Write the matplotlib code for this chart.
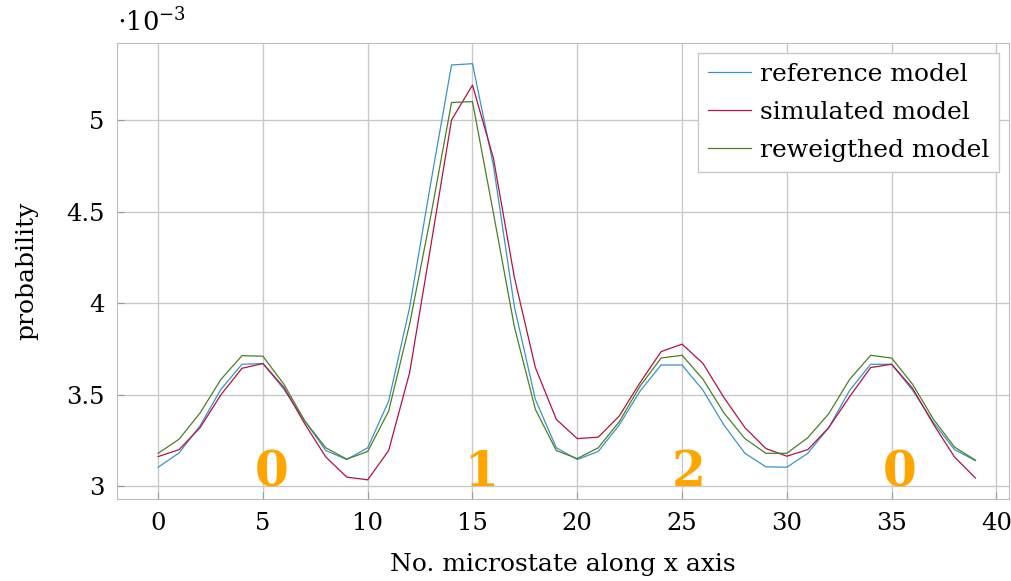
import numpy as np
import matplotlib
matplotlib.use('Agg')
from matplotlib import pyplot as plt

plt.rcParams['font.family'] = 'DejaVu Serif'
plt.rcParams['mathtext.fontset'] = 'dejavuserif'

# microstate index along x
x = np.arange(40)

# probabilities, in units of 1e-3
reference = [3.104, 3.182, 3.33, 3.53, 3.666, 3.67, 3.53, 3.356, 3.195, 3.146,
             3.21, 3.465, 3.976, 4.65, 5.30, 5.307, 4.75, 3.98, 3.474, 3.21,
             3.146, 3.19, 3.334, 3.52, 3.662, 3.662, 3.524, 3.334, 3.18, 3.106,
             3.104, 3.18, 3.32, 3.524, 3.666, 3.666, 3.524, 3.347, 3.20, 3.14]
simulated = [3.162, 3.20, 3.32, 3.50, 3.644, 3.67, 3.54, 3.34, 3.16, 3.05,
             3.035, 3.195, 3.62, 4.305, 5.0, 5.19, 4.79, 4.14, 3.648, 3.365,
             3.26, 3.268, 3.383, 3.566, 3.735, 3.776, 3.67, 3.484, 3.32, 3.206,
             3.164, 3.20, 3.32, 3.49, 3.648, 3.666, 3.535, 3.338, 3.16, 3.045]
reweighted = [3.18, 3.257, 3.40, 3.584, 3.713, 3.71, 3.557, 3.356, 3.21, 3.148,
              3.19, 3.41, 3.885, 4.47, 5.095, 5.10, 4.49, 3.87, 3.42, 3.195,
              3.151, 3.21, 3.352, 3.547, 3.70, 3.715, 3.584, 3.40, 3.26, 3.18,
              3.18, 3.265, 3.396, 3.584, 3.715, 3.70, 3.557, 3.365, 3.214, 3.142]

# region labels drawn in orange
region_labels = ['0', '1', '2', '0']
region_x = [5.4, 15.4, 25.3, 35.4]

fig = plt.figure(figsize=(10.11, 5.81), dpi=100)
ax = fig.add_axes([0.116, 0.141, 0.882, 0.785])

ax.plot(x, reference, color='#3a93c8', lw=0.9, label='reference model')
ax.plot(x, simulated, color='#b4123f', lw=0.9, label='simulated model')
ax.plot(x, reweighted, color='#4b7f25', lw=0.9, label='reweigthed model')

for lab, xp in zip(region_labels, region_x):
    ax.text(xp, 3.0, lab, color='#ffa500', fontsize=35, fontweight='bold',
            ha='center', va='baseline')

ax.set_xlim(-1.95, 40.6)
ax.set_ylim(2.93, 5.42)
ax.set_xticks(np.arange(0, 41, 5))
ax.set_yticks([3, 3.5, 4, 4.5, 5])
ax.set_yticklabels(['3', '3.5', '4', '4.5', '5'])

ax.grid(True, color='#c8c8c8', lw=1)
ax.set_axisbelow(True)
for s in ax.spines.values():
    s.set_color('#bdbdbd')
ax.tick_params(direction='in', length=5, color='#9a9a9a', labelsize=17.5, pad=9)

ax.set_xlabel('No. microstate along x axis', fontsize=18, labelpad=13)
ax.set_ylabel('probability', fontsize=18, labelpad=20)
ax.text(0.0, 1.015, r'$\cdot10^{-3}$', transform=ax.transAxes, fontsize=18.5,
        ha='left', va='bottom')

leg = ax.legend(loc='upper right', fontsize=18, fancybox=False, framealpha=1,
                edgecolor='#c8c8c8', handlelength=1.7, borderaxespad=0.4,
                labelspacing=0.6, handletextpad=0.35, borderpad=0.4)
leg.get_frame().set_linewidth(1)

fig.savefig('out.png', dpi=100)
